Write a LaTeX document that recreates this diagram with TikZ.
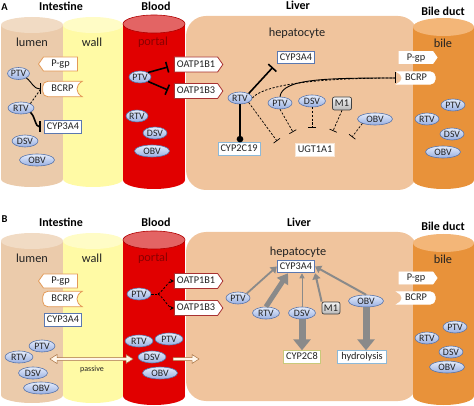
\documentclass[tikz,border=0pt]{standalone}
\usepackage{fontspec}
\setmainfont{Carlito}
\usetikzlibrary{shapes.geometric,shapes.symbols,arrows.meta,calc}
\pgfdeclarelayer{back}
\pgfdeclarelayer{shapes}
\pgfsetlayers{back,shapes,main}
\definecolor{lumenC}{HTML}{EBCBAB}
\definecolor{lumenT}{HTML}{F1DBC4}
\definecolor{wallC}{HTML}{FFFAA5}
\definecolor{wallT}{HTML}{FFFCC6}
\definecolor{portalC}{HTML}{E10000}
\definecolor{portalT}{HTML}{E36464}
\definecolor{portalD}{HTML}{B00000}
\definecolor{portalTxt}{HTML}{8A0000}
\definecolor{liverC}{HTML}{F0C49D}
\definecolor{bileC}{HTML}{E8923A}
\definecolor{bileT}{HTML}{F3B678}
\definecolor{ellTop}{HTML}{E6EDFB}
\definecolor{ellBot}{HTML}{98AFE2}
\definecolor{ellLine}{HTML}{5874AA}
\definecolor{orangeB}{HTML}{E39A57}
\definecolor{cypBlue}{HTML}{5B78B0}
\definecolor{oatpRed}{HTML}{A83232}
\definecolor{lightBlue}{HTML}{8DB9D8}
\definecolor{ugtB}{HTML}{F7E6D6}
\definecolor{cEightB}{HTML}{C9C97A}
\definecolor{arrGray}{HTML}{8A8A8A}
\definecolor{passC}{HTML}{A8703F}
\definecolor{passF}{HTML}{FFF6EA}
\definecolor{txt}{HTML}{222222}

\newcommand\mycyl[7]{%
 \fill[#6] (#1-#2,#3) rectangle (#1+#2,#4);
 \fill[#6] (#1,#4) ellipse [x radius=#2pt, y radius=#5pt];
 \fill[#7] (#1,#3) ellipse [x radius=#2pt, y radius=#5pt];}
\newcommand\notchE[2]{%
 \draw[draw=#2, line width=0.8pt, fill=white] (#1.south east) [rounded corners=5pt] -- (#1.south west) -- (#1.north west) [sharp corners] -- (#1.north east) .. controls ($(#1.north east)+(-7,4)$) and ($(#1.south east)+(-7,-4)$) .. (#1.south east) -- cycle;}
\newcommand\notchW[2]{%
 \draw[draw=#2, line width=0.8pt, fill=white] (#1.south west) [rounded corners=5pt] -- (#1.south east) -- (#1.north east) [sharp corners] -- (#1.north west) .. controls ($(#1.north west)+(7,4)$) and ($(#1.south west)+(7,-4)$) .. (#1.south west) -- cycle;}
\newcommand\hollowD[2]{%
 \draw[draw=passC, fill=passF, line width=0.5pt] (#1) -- ($(#1)+(7,-4.5)$) -- ($(#1)+(7,-1.5)$) -- ($(#2)+(-7,-1.5)$) -- ($(#2)+(-7,-4.5)$) -- (#2) -- ($(#2)+(-7,4.5)$) -- ($(#2)+(-7,1.5)$) -- ($(#1)+(7,1.5)$) -- ($(#1)+(7,4.5)$) -- cycle;}
\newcommand\hollowS[2]{%
 \draw[draw=passC, fill=passF, line width=0.5pt] ($(#1)+(0,-1.5)$) -- ($(#2)+(-7,-1.5)$) -- ($(#2)+(-7,-4.5)$) -- (#2) -- ($(#2)+(-7,4.5)$) -- ($(#2)+(-7,1.5)$) -- ($(#1)+(0,1.5)$) -- cycle;}

\tikzset{
 drug/.style={ellipse, draw=ellLine, line width=0.6pt, top color=ellTop, bottom color=ellBot, inner sep=0pt, minimum width=24pt, minimum height=12pt, font=\fontsize{9.8}{10}\selectfont, text=txt},
 obv/.style={drug, minimum width=35pt},
 mbox/.style={rectangle, fill=white, draw=#1, line width=0.8pt, font=\fontsize{10.3}{11}\selectfont, text=txt, inner xsep=2.5pt, inner ysep=0pt, minimum height=12.5pt, text height=7.2pt, text depth=1.8pt},
 sigW/.style={signal, signal to=west, signal pointer angle=110, fill=white, draw=#1, line width=0.8pt, font=\fontsize{10.3}{11}\selectfont, text=txt, inner xsep=2.5pt, inner ysep=0pt, minimum height=14pt, text height=7.2pt, text depth=1.8pt},
 sigE/.style={sigW=#1, signal to=east},
 notchbox/.style={rectangle, inner xsep=3pt, inner ysep=0pt, minimum width=39pt, minimum height=15pt, font=\fontsize{10.3}{11}\selectfont, text=txt, text height=7.2pt, text depth=1.8pt},
 mone/.style={rectangle, rounded corners=2pt, draw=black!75, line width=0.7pt, top color=white!90!gray, bottom color=gray!55, minimum width=19pt, minimum height=13pt, inner sep=0pt, font=\fontsize{10.3}{11}\selectfont, text=txt},
 ttl/.style={font=\bfseries\fontsize{12}{13}\selectfont},
 plab/.style={font=\bfseries\fontsize{10.5}{12}\selectfont},
 reg/.style={font=\fontsize{12.3}{13}\selectfont, text=txt},
 inhthick/.style={line width=1.6pt, -{Bar[width=11pt]}},
 inhthin/.style={line width=0.9pt, -{Bar[width=11pt]}},
 inhdash/.style={line width=0.7pt, dash pattern=on 2.2pt off 1.6pt, -{Bar[width=8pt]}},
 dsh/.style={line width=0.8pt, dash pattern=on 2.2pt off 1.6pt},
 garr/.style={draw=arrGray, line width=#1},
}

\begin{document}
\begin{tikzpicture}[x=1pt,y=-1pt]
\useasboundingbox (0,0) rectangle (474,406);
\begin{pgfonlayer}{back}
 % panel A
 \mycyl{32}{31}{25}{179}{8}{lumenC}{lumenT}
 \mycyl{93}{30}{25}{179}{8}{wallC}{wallT}
 \fill[liverC, rounded corners=20pt] (186,16) rectangle (418,190);
 \mycyl{154}{31}{24}{180}{9}{portalC}{portalT}
 \draw[portalD, line width=0.6pt] (154,24) ellipse [x radius=31pt, y radius=9pt];
 \mycyl{443.5}{30.5}{27}{180}{9}{bileC}{bileT}
 % panel B
 \mycyl{32}{31}{241}{395}{8}{lumenC}{lumenT}
 \mycyl{93}{30}{241}{395}{8}{wallC}{wallT}
 \fill[liverC, rounded corners=20pt] (186,232) rectangle (418,401);
 \mycyl{154}{31}{240}{396}{9}{portalC}{portalT}
 \draw[portalD, line width=0.6pt] (154,240) ellipse [x radius=31pt, y radius=9pt];
 \mycyl{443.5}{30.5}{243}{396}{9}{bileC}{bileT}
\end{pgfonlayer}

% ================= Panel A =================
\node[plab] (pA) at (4.5,7.5) {A};
\node[ttl] (tIntA) at (61,6) {Intestine};
\node[ttl] (tBloodA) at (156,6) {Blood};
\node[ttl] (tLiverA) at (298,5) {Liver};
\node[ttl] (tBileA) at (443,11) {Bile duct};
\node[reg] (lumA) at (32,42) {lumen};
\node[reg] (wallA) at (92,42) {wall};
\node[reg, text=portalTxt] (porA) at (153,42) {portal};
\node[reg] (hepA) at (297,33) {hepatocyte};
\node[reg] (bileA) at (443,43) {bile};

% lumen / wall
\node[sigW=orangeB, minimum width=39pt] (pgpLA) at (60.5,64) {P-gp};
\node[notchbox] (bcrpLA) at (62.5,89) {BCRP};
\node[mbox=cypBlue] (cypLA) at (63,127) {CYP3A4};
\node[drug, minimum width=22pt] (ptvLA) at (18.5,73.5) {PTV};
\node[drug, minimum width=26pt] (rtvLA) at (21,108) {RTV};
\node[drug, minimum width=26pt] (dsvLA) at (25,141) {DSV};
\node[obv] (obvLA) at (37,160) {OBV};

% blood
\node[sigE=oatpRed, minimum width=48pt, minimum height=15pt] (o1A) at (196,64.5) {OATP1B1};
\node[sigE=oatpRed, minimum width=48pt, minimum height=15pt] (o3A) at (196,91) {OATP1B3};
\node[drug, minimum width=22pt] (ptvBA) at (140,77) {PTV};
\node[drug, minimum width=22pt] (rtvBA) at (137,116) {RTV};
\node[drug, minimum width=24pt] (dsvBA) at (155,133) {DSV};
\node[obv] (obvBA) at (152,151) {OBV};

% liver
\node[mbox=cypBlue, line width=1pt] (cypHA) at (296,57.5) {CYP3A4};
\node[drug] (rtvHA) at (240,98) {RTV};
\node[mbox=lightBlue] (c19A) at (239,149) {CYP2C19};
\node[drug] (ptvHA) at (280,103) {PTV};
\node[drug, minimum width=27pt] (dsvHA) at (312,101) {DSV};
\node[mone] (m1A) at (342,103.5) {M1};
\node[obv] (obvHA) at (375,119) {OBV};
\node[mbox=ugtB] (ugtA) at (315,150) {UGT1A1};
\coordinate (u1) at (277,141);
\coordinate (u2) at (293,132);
\coordinate (u3) at (312,128);
\coordinate (u4) at (333,131);
\coordinate (u5) at (352,137);

% bile
\node[sigE=white, minimum width=38pt, minimum height=12pt] (pgpXA) at (416,57.5) {P-gp};
\node[notchbox, minimum width=38pt, minimum height=12pt] (bcrpXA) at (416,78) {BCRP};
\node[drug] (ptvXA) at (453,105) {PTV};
\node[drug] (rtvXA) at (427,119) {RTV};
\node[drug] (dsvXA) at (452,134) {DSV};
\node[obv] (obvXA) at (443,152) {OBV};

% connectors A
\draw[inhthin] (ptvLA.south east) .. controls +(6,5) and +(-7,0) .. ([xshift=-2pt]bcrpLA.west);
\draw[dsh] (rtvLA.north east) -- ([xshift=-2pt]bcrpLA.west);
\draw[inhthick] (rtvLA.south east) .. controls +(5,4) and +(-6,0) .. ([xshift=-3pt]cypLA.west);
\draw[inhthick] (ptvBA.north east) -- ([shift={(-6,2.5)}]o1A.west);
\draw[inhthick] (ptvBA.south east) -- ([shift={(-6,-1)}]o3A.west);
\draw[inhthick] (rtvHA.north east) -- ([shift={(-4,3)}]cypHA.south west);
\draw[line width=1.6pt, -{Circle[length=6.5pt]}] (rtvHA.south) -- (rtvHA.south |- c19A.north);
\draw[dsh] (rtvHA.east) .. controls +(14,-16) and +(-60,0) .. ([xshift=-1pt]bcrpXA.west);
\draw[inhthin] (ptvHA.north) .. controls +(2,-18) and +(-70,0) .. ([xshift=-1pt]bcrpXA.west);
\draw[inhdash] (rtvHA.south east) -- (u1);
\draw[inhdash] (ptvHA.south) -- (u2);
\draw[inhdash] (dsvHA.south) -- (u3);
\draw[inhdash] (m1A.south) -- (u4);
\draw[inhdash] (obvHA.south west) -- (u5);

% ================= Panel B =================
\node[plab] (pB) at (4.5,219.5) {B};
\node[ttl] (tIntB) at (61,222) {Intestine};
\node[ttl] (tBloodB) at (156,222) {Blood};
\node[ttl] (tLiverB) at (299,222) {Liver};
\node[ttl] (tBileB) at (443,226) {Bile duct};
\node[reg] (lumB) at (32,258) {lumen};
\node[reg] (wallB) at (92,258) {wall};
\node[reg, text=portalTxt] (porB) at (153,258) {portal};
\node[reg] (hepB) at (298,252) {hepatocyte};
\node[reg] (bileB) at (443,259) {bile};

% lumen / wall
\node[sigW=orangeB, minimum width=39pt] (pgpLB) at (60.5,281) {P-gp};
\node[notchbox] (bcrpLB) at (62.5,299) {BCRP};
\node[mbox=cypBlue] (cypLB) at (63,320) {CYP3A4};
\node[drug, minimum width=26pt] (ptvLB) at (42,346) {PTV};
\node[drug, minimum width=28pt] (rtvLB) at (19,357) {RTV};
\node[drug, minimum width=29pt] (dsvLB) at (33,373) {DSV};
\node[obv] (obvLB) at (41,388) {OBV};
\coordinate (pa1) at (50,359);
\coordinate (pa2) at (133,359);
\node[font=\fontsize{8}{9}\selectfont, text=txt] (passv) at (92,369) {passive};

% blood
\node[sigE=oatpRed, minimum width=48pt, minimum height=15pt] (o1B) at (196,281) {OATP1B1};
\node[sigE=oatpRed, minimum width=48pt, minimum height=15pt] (o3B) at (196,308) {OATP1B3};
\node[drug, minimum width=24pt] (ptvBB) at (139,294) {PTV};
\coordinate (fork) at (158,294);
\node[drug, minimum width=28pt] (rtvBB) at (139,341) {RTV};
\node[drug, minimum width=28pt] (ptv2BB) at (169,339) {PTV};
\node[drug, minimum width=28pt] (dsvBB) at (152,357) {DSV};
\node[obv] (obvBB) at (160,373) {OBV};
\coordinate (pb1) at (173,359);
\coordinate (pb2) at (199,359);

% liver
\node[mbox=cypBlue, line width=1pt] (cypHB) at (296,266.5) {CYP3A4};
\node[drug] (ptvHB) at (238,298) {PTV};
\node[drug, minimum width=27pt] (rtvHB) at (266,313) {RTV};
\node[drug, minimum width=27pt] (dsvHB) at (302,313) {DSV};
\node[mone, minimum width=18pt, minimum height=12pt] (m1B) at (331,308) {M1};
\node[obv] (obvHB) at (366,301) {OBV};
\node[mbox=cEightB] (c8B) at (302,357) {CYP2C8};
\node[mbox=lightBlue, inner xsep=4pt] (hydB) at (362,357) {hydrolysis};

% bile
\node[sigE=white, minimum width=38pt, minimum height=12pt] (pgpXB) at (416,278) {P-gp};
\node[notchbox, minimum width=38pt, minimum height=12pt] (bcrpXB) at (416,298) {BCRP};
\node[drug] (ptvXB) at (455,327) {PTV};
\node[drug] (rtvXB) at (427,338) {RTV};
\node[drug] (dsvXB) at (451,352) {DSV};
\node[obv] (obvXB) at (447,367) {OBV};

% connectors B
\hollowD{pa1}{pa2}
\hollowS{pb1}{pb2}
\draw[dsh] (ptvBB.east) -- (fork);
\draw[dsh, -{Stealth[length=4pt,width=4pt]}] (fork) .. controls +(4,-2) and +(-5,0) .. (o1B.west);
\draw[dsh, -{Stealth[length=4pt,width=4pt]}] (fork) .. controls +(4,2) and +(-5,0) .. (o3B.west);
\draw[garr=1.8pt, -{Triangle[length=6pt,width=8pt]}] (ptvHB.north east) -- (cypHB.west);
\draw[garr=5pt, -{Triangle[length=10pt,width=13pt]}] (rtvHB.north) -- ([xshift=-8pt]cypHB.south);
\draw[garr=1pt, -{Triangle[length=5pt,width=5pt]}] (dsvHB.north) -- (dsvHB.north |- cypHB.south);
\draw[garr=2pt, -{Triangle[length=6pt,width=8pt]}] (m1B.north west) -- (cypHB.south east);
\draw[garr=2pt, -{Triangle[length=6pt,width=8pt]}] (obvHB.north) -- (cypHB.east);
\draw[garr=7pt, -{Triangle[length=11pt,width=17pt]}] (dsvHB.south) -- (dsvHB.south |- c8B.north);
\draw[garr=7pt, -{Triangle[length=11pt,width=17pt]}] (obvHB.south) -- (obvHB.south |- hydB.north);

% notched transporter outlines
\begin{pgfonlayer}{shapes}
 \notchE{bcrpLA}{orangeB}
 \notchW{bcrpXA}{white}
 \notchE{bcrpLB}{orangeB}
 \notchW{bcrpXB}{white}
\end{pgfonlayer}
\end{tikzpicture}
\end{document}
